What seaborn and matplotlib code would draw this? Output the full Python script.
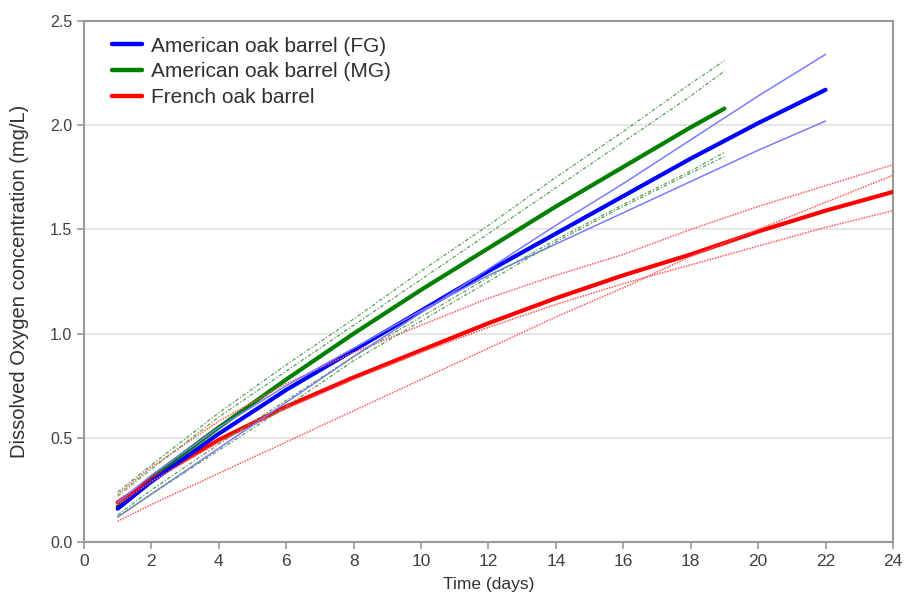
import matplotlib
matplotlib.use("Agg")
import matplotlib.pyplot as plt
import seaborn as sns
import pandas as pd
from matplotlib.lines import Line2D

# ---- data ----
days_fg = [1, 2, 4, 6, 8, 10, 12, 14, 16, 18, 20, 22]
fg_mean = [0.16, 0.29, 0.52, 0.73, 0.92, 1.11, 1.30, 1.48, 1.66, 1.84, 2.01, 2.17]
fg_hi = [0.12, 0.23, 0.45, 0.67, 0.89, 1.10, 1.31, 1.52, 1.72, 1.93, 2.14, 2.34]
fg_lo = [0.19, 0.32, 0.55, 0.75, 0.93, 1.11, 1.28, 1.43, 1.58, 1.73, 1.88, 2.02]

days_mg = [1, 2, 4, 6, 8, 10, 12, 14, 16, 18, 19]
mg_mean = [0.17, 0.31, 0.55, 0.78, 1.00, 1.21, 1.41, 1.61, 1.80, 1.99, 2.08]
mg_hi1 = [0.24, 0.37, 0.62, 0.85, 1.07, 1.30, 1.52, 1.75, 1.97, 2.20, 2.31]
mg_hi2 = [0.22, 0.35, 0.60, 0.82, 1.04, 1.26, 1.48, 1.70, 1.92, 2.14, 2.26]
mg_lo1 = [0.12, 0.23, 0.44, 0.65, 0.87, 1.06, 1.25, 1.44, 1.61, 1.77, 1.85]
mg_lo2 = [0.13, 0.25, 0.47, 0.68, 0.89, 1.08, 1.27, 1.45, 1.62, 1.78, 1.87]

days_fr = [1, 2, 4, 6, 8, 10, 12, 14, 16, 18, 20, 22, 24]
fr_mean = [0.19, 0.30, 0.49, 0.65, 0.79, 0.92, 1.05, 1.17, 1.28, 1.38, 1.49, 1.59, 1.68]
fr_hi = [0.23, 0.36, 0.58, 0.76, 0.91, 1.04, 1.17, 1.28, 1.38, 1.50, 1.61, 1.71, 1.81]
fr_lin = [0.10, 0.18, 0.33, 0.48, 0.63, 0.78, 0.93, 1.08, 1.22, 1.37, 1.50, 1.63, 1.76]
fr_lo = [0.18, 0.29, 0.48, 0.64, 0.78, 0.91, 1.03, 1.14, 1.24, 1.33, 1.42, 1.51, 1.59]

labels = ["American oak barrel (FG)", "American oak barrel (MG)", "French oak barrel"]
x_ticks = list(range(0, 25, 2))
y_ticks = [0.0, 0.5, 1.0, 1.5, 2.0, 2.5]

# ---- style ----
sns.set_theme(style="white")
plt.rcParams["font.family"] = ["Liberation Sans", "DejaVu Sans"]

fig = plt.figure(figsize=(9.06, 5.94), dpi=100)
ax = fig.add_axes([0.0927, 0.0875, 0.8929, 0.8771])

def draw(x, y, **kw):
    df = pd.DataFrame({"day": x, "val": y})
    sns.lineplot(data=df, x="day", y="val", ax=ax, estimator=None, sort=False, **kw)

thick = 3.0
draw(days_mg, mg_mean, color="#008000", lw=thick, solid_capstyle="round", zorder=3)
draw(days_fr, fr_mean, color="#ff0000", lw=thick, solid_capstyle="round", zorder=3)
draw(days_fg, fg_mean, color="#0000ff", lw=thick, solid_capstyle="round", zorder=3)

red_thin = dict(color="#ff5a5a", lw=1.1, linestyle=(0, (1.0, 0.8)), zorder=4)
for s in (fr_hi, fr_lin, fr_lo):
    draw(days_fr, s, **red_thin)
blue_thin = dict(color="#7a7aff", lw=1.1, zorder=4)
for s in (fg_hi, fg_lo):
    draw(days_fg, s, **blue_thin)
green_thin = dict(color="#5aa05a", lw=0.9, linestyle=(0, (3.0, 1.5, 1.0, 1.5)), zorder=4)
for s in (mg_hi1, mg_hi2, mg_lo1, mg_lo2):
    draw(days_mg, s, **green_thin)

ax.set_xlim(0, 24)
ax.set_ylim(0, 2.5)
ax.set_xticks(x_ticks)
ax.set_yticks(y_ticks)
ax.set_yticklabels([f"{v:.1f}" for v in y_ticks])
ax.grid(axis="y", color="#e6e6e6", lw=1.5)
ax.set_axisbelow(True)

for sp in ax.spines.values():
    sp.set_color("#9a9a9a")
    sp.set_linewidth(1.5)

ax.tick_params(axis="both", direction="out", length=5, width=1.2, color="#9a9a9a",
               labelcolor="#404040", labelsize=11.5, bottom=True, left=True)
ax.tick_params(axis="x", labelsize=12.5)

ax.set_xlabel("Time (days)", fontsize=12.5, color="#303030", labelpad=6)
ax.set_ylabel("Dissolved Oxygen concentration (mg/L)", fontsize=14.5, color="#303030")
ax.yaxis.set_label_coords(-0.068, 0.5)

handles = [Line2D([], [], color=c, lw=3.2) for c in ("#0000ff", "#008000", "#ff0000")]
ax.legend(handles, labels, loc="upper left", frameon=False, fontsize=15,
          handlelength=1.4, handletextpad=0.45, labelspacing=0.32,
          bbox_to_anchor=(0.012, 1.006), labelcolor="#303030")

fig.savefig("out.png", dpi=100)
